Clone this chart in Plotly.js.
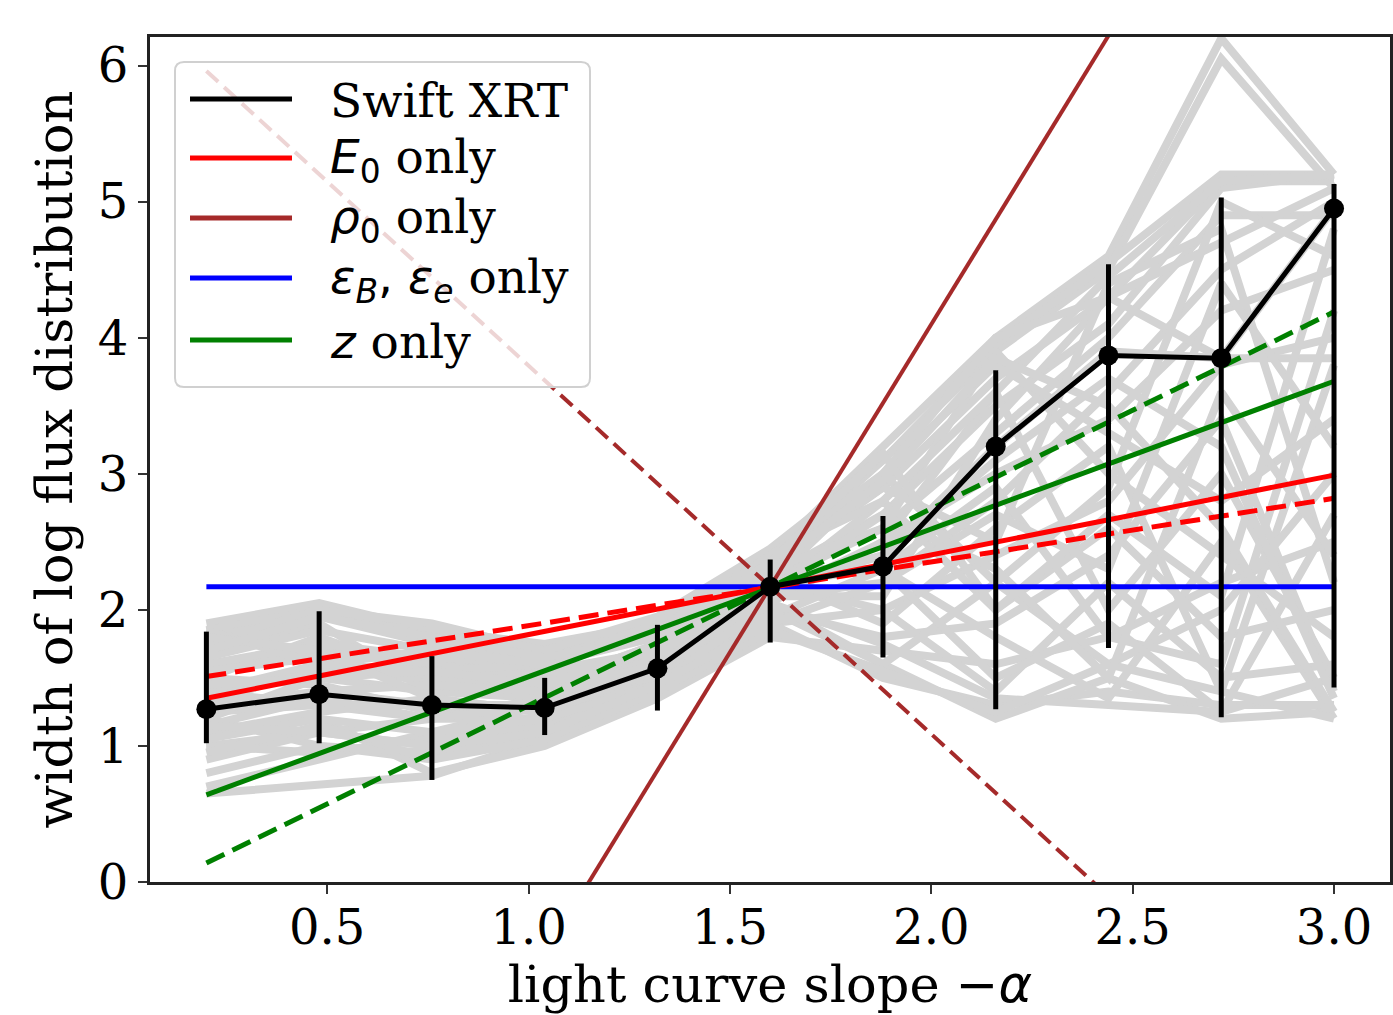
<!DOCTYPE html>
<html>
<head>
<meta charset="utf-8">
<script src="https://cdn.plot.ly/plotly-3.0.1.min.js"></script>
<style>html,body{margin:0;padding:0;background:#fff;}#chart{width:1393px;height:1015px;}</style>
</head>
<body>
<div id="chart"></div>
<script>
// ---- data ----
const slopes = [0.2, 0.48, 0.76, 1.04, 1.32, 1.6, 1.88, 2.16, 2.44, 2.72, 3.0];
const xrtWidth = [1.27, 1.38, 1.30, 1.28, 1.57, 2.17, 2.32, 3.20, 3.87, 3.85, 4.95];
const xrtUpper = [1.84, 1.99, 1.66, 1.50, 1.89, 2.37, 2.69, 3.76, 4.54, 5.03, 5.13];
const xrtLower = [1.02, 1.02, 0.75, 1.08, 1.26, 1.76, 1.65, 1.27, 1.72, 1.21, 1.43];

// simulated curves (grey)
const sim01 = [1.90, 2.05, 1.85, 1.75, 1.90, 2.40, 3.20, 4.00, 4.60, 6.20, 5.20];
const sim02 = [1.85, 2.00, 1.80, 1.70, 1.85, 2.35, 3.10, 3.90, 4.50, 6.05, 5.10];
const sim03 = [1.80, 1.95, 1.75, 1.65, 1.80, 2.30, 2.90, 3.70, 4.30, 5.15, 5.15];
const sim04 = [1.60, 1.70, 1.60, 1.55, 1.70, 2.25, 2.70, 3.50, 4.10, 5.10, 5.20];
const sim05 = [1.50, 1.80, 1.50, 1.45, 1.75, 2.20, 2.60, 3.30, 4.00, 4.90, 4.90];
const sim06 = [1.30, 1.40, 1.30, 1.30, 1.60, 2.15, 2.40, 3.20, 3.90, 3.85, 4.95];
const sim07 = [1.00, 1.10, 1.00, 1.20, 1.50, 2.10, 2.20, 2.80, 3.60, 4.50, 5.00];
const sim08 = [0.70, 0.90, 1.10, 1.30, 1.55, 2.05, 2.50, 3.00, 3.40, 4.20, 4.50];
const sim09 = [0.65, 0.72, 0.78, 1.05, 1.40, 1.90, 2.00, 2.40, 2.80, 3.80, 4.00];
const sim10 = [1.10, 1.20, 0.80, 1.00, 1.35, 1.80, 1.70, 1.60, 1.80, 2.20, 2.50];
const sim11 = [1.20, 1.00, 0.90, 1.10, 1.40, 1.90, 1.50, 1.30, 1.40, 1.30, 1.30];
const sim12 = [1.40, 1.30, 1.20, 1.20, 1.45, 2.00, 1.60, 1.20, 1.50, 1.20, 1.25];
const sim13 = [1.70, 1.90, 1.40, 1.40, 1.50, 2.20, 2.00, 1.40, 2.20, 1.50, 1.60];
const sim14 = [1.30, 1.60, 1.70, 1.50, 1.60, 2.30, 2.30, 1.80, 1.35, 2.50, 1.20];
const sim15 = [1.20, 1.50, 1.40, 1.35, 1.65, 2.15, 2.80, 2.00, 2.60, 1.80, 2.00];
const sim16 = [1.10, 1.25, 1.35, 1.25, 1.50, 2.10, 2.50, 3.60, 2.00, 3.00, 1.50];
const sim17 = [1.50, 1.45, 1.25, 1.30, 1.60, 2.25, 1.90, 2.60, 3.20, 1.40, 3.80];
const sim18 = [0.90, 1.10, 1.20, 1.35, 1.70, 2.20, 3.00, 2.20, 1.60, 2.00, 3.00];
const sim19 = [1.25, 1.30, 1.30, 1.25, 1.55, 2.10, 2.10, 3.40, 4.30, 3.85, 3.85];
const sim20 = [1.40, 1.60, 1.50, 1.40, 1.75, 2.30, 2.60, 3.90, 3.00, 2.40, 1.80];
const sim21 = [1.60, 1.75, 1.65, 1.60, 1.80, 2.35, 2.90, 2.50, 4.40, 4.80, 2.20];
const sim22 = [1.00, 0.95, 1.05, 1.15, 1.50, 2.00, 1.80, 1.90, 2.40, 3.40, 1.40];
const sim23 = [1.35, 1.55, 1.60, 1.50, 1.70, 2.20, 2.30, 2.90, 1.80, 1.60, 4.20];
const sim24 = [1.15, 1.35, 1.20, 1.30, 1.45, 2.05, 1.60, 2.20, 2.90, 5.00, 4.60];
const sim25 = [1.55, 1.65, 1.45, 1.35, 1.65, 2.30, 3.00, 3.80, 3.30, 2.80, 3.40];
const sim26 = [0.80, 1.00, 0.95, 1.10, 1.40, 1.95, 2.30, 1.50, 1.90, 1.25, 2.70];
const sim27 = [1.75, 2.00, 1.90, 1.70, 1.95, 2.45, 3.10, 3.95, 4.55, 5.20, 5.20];
const sim28 = [1.85, 1.60, 1.55, 1.60, 1.90, 2.40, 2.80, 3.60, 4.45, 5.15, 5.20];
const sim29 = [1.65, 1.85, 1.70, 1.60, 1.85, 2.40, 3.00, 4.00, 4.30, 4.70, 5.10];
const sim30 = [1.45, 1.50, 1.55, 1.45, 1.75, 2.30, 2.95, 3.85, 3.50, 2.60, 1.25];
const sim31 = [1.05, 1.20, 1.10, 1.20, 1.45, 2.05, 1.75, 1.35, 1.30, 1.25, 1.50];
const sim32 = [0.95, 1.15, 0.90, 1.05, 1.40, 1.85, 1.55, 1.25, 1.60, 1.40, 1.20];
const sim33 = [1.25, 1.40, 1.45, 1.40, 1.60, 2.15, 2.70, 2.30, 1.50, 3.60, 2.40];
const sim34 = [1.80, 1.70, 1.35, 1.25, 1.55, 2.20, 2.40, 3.10, 3.70, 3.20, 1.35];
const sim35 = [1.15, 1.10, 1.00, 1.10, 1.45, 1.90, 2.20, 2.70, 2.30, 4.40, 3.20];
const sim36 = [1.70, 1.95, 1.80, 1.65, 1.80, 2.35, 3.15, 2.00, 2.70, 2.10, 4.80];
const simCurves = [sim01, sim02, sim03, sim04, sim05, sim06, sim07, sim08, sim09, sim10, sim11, sim12,
                   sim13, sim14, sim15, sim16, sim17, sim18, sim19, sim20, sim21, sim22, sim23, sim24,
                   sim25, sim26, sim27, sim28, sim29, sim30, sim31, sim32, sim33, sim34, sim35, sim36];

// model lines (values at the two ends of the slope range)
const modelX = [0.2, 3.0];
const e0Solid = [1.35, 2.99];
const e0Dashed = [1.51, 2.82];
const rhoSolid = [-4.58, 8.92];
const rhoDashed = [5.96, -1.62];
const epsSolid = [2.17, 2.17];
const zSolid = [0.64, 3.68];
const zDashed = [0.14, 4.19];

const legendLabels = [
  'Swift XRT',
  '<span style="font-family:\'DejaVu Sans\'"><i>E</i><sub>0</sub></span> only',
  '<span style="font-family:\'DejaVu Sans\'"><i>ρ</i><sub>0</sub></span> only',
  '<span style="font-family:\'DejaVu Sans\'"><i>ε<sub>B</sub></i>, <i>ε<sub>e</sub></i></span> only',
  '<span style="font-family:\'DejaVu Sans\'"><i>z</i></span> only'
];
const legendColors = ['black', 'red', 'brown', 'blue', 'green'];

const xTickVals = [0.5, 1.0, 1.5, 2.0, 2.5, 3.0];
const xTickText = ['0.5', '1.0', '1.5', '2.0', '2.5', '3.0'];
const yTickVals = [0, 1, 2, 3, 4, 5, 6];

// ---- traces ----
const traces = [];
simCurves.forEach(c => traces.push({
  x: slopes, y: c, mode: 'lines', type: 'scatter', showlegend: false, hoverinfo: 'skip',
  line: {color: '#d3d3d3', width: 8}
}));
function model(y, color, dash, width) {
  traces.push({x: modelX, y: y, mode: 'lines', type: 'scatter', showlegend: false,
    line: {color: color, width: width, dash: dash}});
}
model(epsSolid, 'blue', 'solid', 5);
model(e0Solid, 'red', 'solid', 5);
model(e0Dashed, 'red', '20px,9px', 5);
model(rhoSolid, 'brown', 'solid', 4);
model(rhoDashed, 'brown', '16px,8px', 4);
model(zSolid, 'green', 'solid', 5);
model(zDashed, 'green', '20px,9px', 5);

traces.push({
  x: slopes, y: xrtWidth, type: 'scatter', mode: 'lines+markers', showlegend: false,
  line: {color: 'black', width: 5},
  marker: {color: 'black', size: 20},
  error_y: {type: 'data', symmetric: false,
    array: xrtUpper.map((u, i) => u - xrtWidth[i]),
    arrayminus: xrtWidth.map((v, i) => v - xrtLower[i]),
    color: 'black', thickness: 5, width: 0}
});

// ---- legend drawn as shapes + annotations ----
const L = 150, R = 1390, T = 37, B = 882;
const px = v => (v - L) / (R - L);
const py = v => (B - v) / (B - T);
const bx0 = px(175), bx1 = px(590), by0 = py(387), by1 = py(62);
const rx = 9 / (R - L), ry = 9 / (B - T);
const boxPath = `M${bx0 + rx},${by0} L${bx1 - rx},${by0} Q${bx1},${by0} ${bx1},${by0 + ry} L${bx1},${by1 - ry} Q${bx1},${by1} ${bx1 - rx},${by1} L${bx0 + rx},${by1} Q${bx0},${by1} ${bx0},${by1 - ry} L${bx0},${by0 + ry} Q${bx0},${by0} ${bx0 + rx},${by0} Z`;
const shapes = [{type: 'path', path: boxPath, xref: 'paper', yref: 'paper', layer: 'above',
  fillcolor: 'rgba(255,255,255,0.8)', line: {color: '#d0d0d0', width: 2}}];
const annotations = [];
const rowY = [99, 158, 218, 278, 340];
legendLabels.forEach((lab, i) => {
  shapes.push({type: 'line', xref: 'paper', yref: 'paper', layer: 'above',
    x0: px(190), x1: px(292), y0: py(rowY[i]), y1: py(rowY[i]),
    line: {color: legendColors[i], width: 5}});
  annotations.push({xref: 'paper', yref: 'paper', x: px(328), y: py(rowY[i] + 2),
    xanchor: 'left', yanchor: 'middle', text: lab, showarrow: false,
    font: {family: 'DejaVu Serif', size: 47, color: 'black'}});
});

const layout = {
  width: 1393, height: 1015,
  margin: {l: L, r: 1393 - R, t: T, b: 1015 - B},
  paper_bgcolor: 'white', plot_bgcolor: 'white',
  font: {family: 'DejaVu Serif', size: 48, color: 'black'},
  showlegend: false,
  xaxis: {range: [0.06, 3.139], tickvals: xTickVals, ticktext: xTickText,
    showgrid: false, zeroline: false, showline: true, mirror: true, linecolor: '#222', linewidth: 3,
    ticks: 'outside', ticklen: 9, tickwidth: 2, tickcolor: '#333', ticklabelstandoff: -8,
    tickfont: {family: 'DejaVu Serif', size: 48, color: 'black'},
    title: {text: 'light curve slope <span style="font-family:\'DejaVu Sans\'">−<i>α</i></span>',
      font: {family: 'DejaVu Serif', size: 51, color: 'black'}, standoff: 12}},
  yaxis: {range: [0, 6.21], tickvals: yTickVals,
    showgrid: false, zeroline: false, showline: true, mirror: true, linecolor: '#222', linewidth: 3,
    ticks: 'outside', ticklen: 9, tickwidth: 2, tickcolor: '#333',
    tickfont: {family: 'DejaVu Serif', size: 48, color: 'black'},
    title: {text: 'width of log flux distribution',
      font: {family: 'DejaVu Serif', size: 51, color: 'black'}, standoff: 10}},
  shapes: shapes,
  annotations: annotations
};

Plotly.newPlot('chart', traces, layout, {staticPlot: true, displayModeBar: false});
</script>
</body>
</html>
